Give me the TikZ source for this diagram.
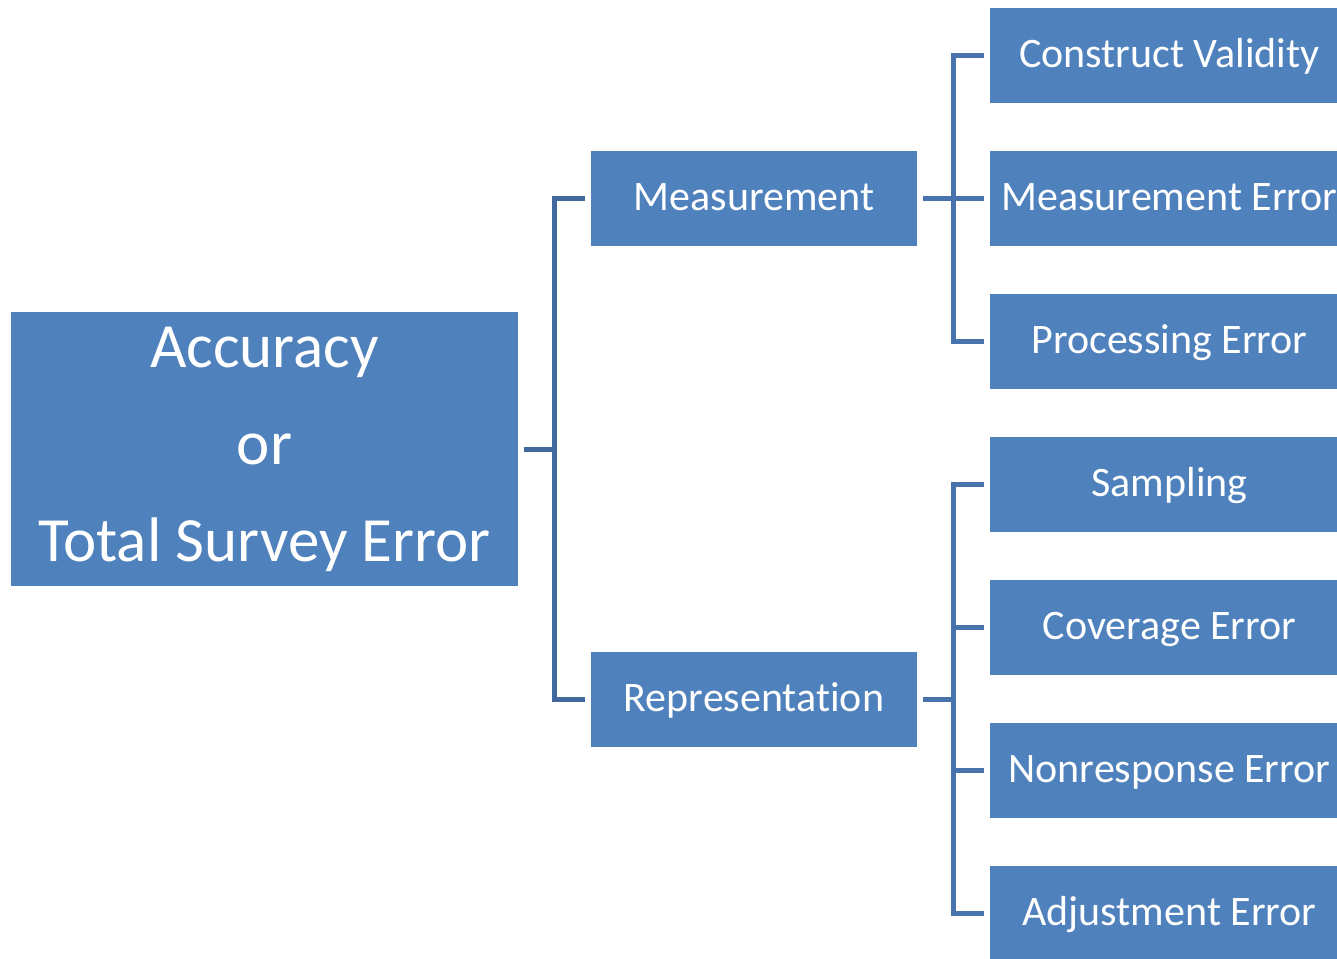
\documentclass[tikz,border=0pt]{standalone}
\usepackage{fontspec}
\setmainfont{Carlito}[Ligatures=NoCommon]
\definecolor{boxblue}{HTML}{4F81BD}
\definecolor{leftline}{HTML}{41699D}
\definecolor{rightline}{HTML}{4873AC}
\begin{document}
\begin{tikzpicture}[x=1pt,y=1pt,
  box/.style={fill=boxblue, text=white, inner sep=0pt, draw=none,
    font=\fontsize{42}{50}\selectfont, text height=34pt, text depth=10.7pt},
  midbox/.style={box, minimum width=326pt, minimum height=95pt},
  leafbox/.style={box, minimum width=359pt, minimum height=95pt},
  rootbox/.style={fill=boxblue, text=white, inner sep=0pt, align=center,
    minimum width=507pt, minimum height=274pt,
    font=\fontsize{63}{97}\selectfont},
  lconn/.style={draw=leftline, line width=5pt},
  rconn/.style={draw=rightline, line width=5pt}]
\useasboundingbox (0,0) rectangle (1337,-958);
\clip (0,0) rectangle (1337,-958);

% root of the tree
\node[rootbox] (root) at (264.5,-449) {Accuracy\\or\\Total Survey Error};

% two main branches
\node[midbox] (meas) at (754,-198.5) {Measurement};
\node[midbox] (repr) at (754,-699.5) {Representation};

% leaves of the measurement branch
\node[leafbox] (cv)  at (1169.5,-55.5)  {Construct Validity};
\node[leafbox] (me)  at (1169.5,-198.5) {Measurement Error};
\node[leafbox] (pe)  at (1169.5,-341.5) {Processing Error};

% leaves of the representation branch
\node[leafbox] (sa)  at (1169.5,-484.5) {Sampling};
\node[leafbox] (ce)  at (1169.5,-627.5) {Coverage Error};
\node[leafbox] (ne)  at (1169.5,-770.5) {Nonresponse Error};
\node[leafbox] (ae)  at (1169.5,-913.5) {Adjustment Error};

% bracket from the root to its two branches
\draw[lconn] ([xshift=6pt]root.east) -- ++(30.5,0) coordinate (lj);
\draw[lconn] ([xshift=-6pt]meas.west) -| (lj) |- ([xshift=-6pt]repr.west);
\draw[lconn] (lj |- meas.west) -- (lj |- repr.west);

% bracket for the measurement leaves
\draw[rconn] ([xshift=6pt]meas.east) -- ++(30.5,0) coordinate (mj);
\draw[rconn] ([xshift=-6pt]cv.west) -| (mj |- cv.west) -- (mj |- pe.west) -- ([xshift=-6pt]pe.west);
\draw[rconn] (mj) -- ([xshift=-6pt]me.west);

% bracket for the representation leaves
\draw[rconn] ([xshift=6pt]repr.east) -- ++(30.5,0) coordinate (rj);
\draw[rconn] ([xshift=-6pt]sa.west) -- (rj |- sa.west) -- (rj |- ae.west) -- ([xshift=-6pt]ae.west);
\draw[rconn] (rj |- ce.west) -- ([xshift=-6pt]ce.west);
\draw[rconn] (rj |- ne.west) -- ([xshift=-6pt]ne.west);
\end{tikzpicture}
\end{document}
